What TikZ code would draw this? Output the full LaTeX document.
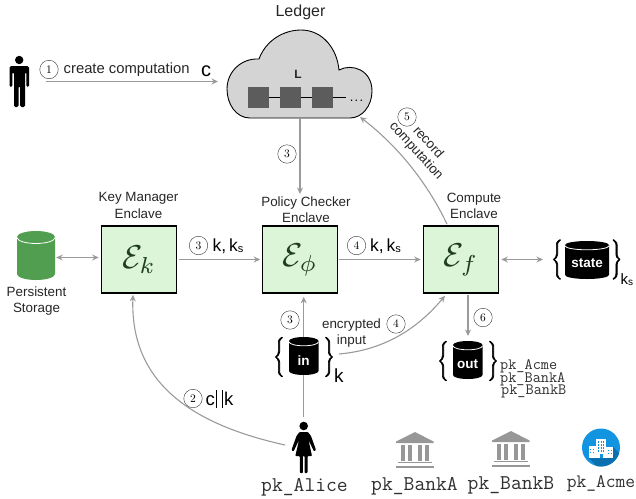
\documentclass[tikz,border=0pt]{standalone}
\usepackage[no-math]{fontspec}
\setmainfont{Liberation Sans}
\usetikzlibrary{arrows.meta,calc}
\definecolor{arrgray}{HTML}{9A9A9A}
\definecolor{boxgreen}{HTML}{DCF5D8}
\definecolor{egreen}{HTML}{1F3D1F}
\definecolor{cylgreen}{HTML}{519E51}
\definecolor{cloudgray}{HTML}{D4D4D4}
\definecolor{blockgray}{HTML}{5C5C5C}
\definecolor{bankgray}{HTML}{979797}
\definecolor{acmeblue}{HTML}{1394E0}
\definecolor{acmedark}{HTML}{0C6FAE}
\definecolor{ttgray}{HTML}{303030}
\newcommand{\fs}[1]{\fontsize{#1}{#1}\selectfont}
\newcommand{\cnum}[1]{\scalebox{1.15}{$#1$}}
\newcommand{\fatbrace}[1]{\special{pdf:code 2 Tr 0.55 w}\scalebox{1.32}{$\Bigg#1$}\special{pdf:code 0 Tr}}
\tikzset{
  arr/.style={draw=arrgray,line width=1.1pt,-{Stealth[length=6.5pt,width=6pt]}},
  biarr/.style={draw=arrgray,line width=1.1pt,{Stealth[length=6.5pt,width=6pt]}-{Stealth[length=6.5pt,width=6pt]}},
  plain/.style={draw=arrgray,line width=1.1pt},
  enclave/.style={draw=black,line width=1.6pt,fill=boxgreen,minimum width=75pt,minimum height=67pt,inner sep=0pt,text=egreen},
  small/.style={inner sep=0pt,align=center,font=\fs{13.4},text=black!85},
  num/.style={circle,draw=black!80,line width=0.4pt,minimum size=18.5pt,inner sep=0pt,font=\fs{10}},
  big/.style={inner sep=0pt,font=\fs{17.5},text=black},
  tt/.style={inner sep=0pt,text=ttgray,font=\ttfamily\fs{21}},
  ttsm/.style={inner sep=0pt,text=ttgray,font=\ttfamily\fs{15.8}},
  cyllabel/.style={inner sep=0pt,text=white,font=\bfseries\fs{13.5}},
  bracket/.style={inner sep=0pt,text=black},
}
\newcommand{\blackcyl}[4]{% x left, y top, width, height
  \fill[black] (#1,#2+4) arc[x radius=#3/2,y radius=4,start angle=180,end angle=360]
     -- (#1+#3,#2+#4-4) arc[x radius=#3/2,y radius=4,start angle=0,end angle=180] -- cycle;
  \draw[white,line width=0.8pt] (#1,#2+4.8) arc[x radius=#3/2,y radius=4,start angle=180,end angle=0];
}
\newcommand{\bankicon}[2]{% x left, y offset
  \begin{scope}[shift={(#1,#2)}]
  \fill[bankgray] (0,9.5) -- (19,0) -- (37.5,9.5) -- (37.5,11) -- (0,11) -- cycle;
  \foreach \cx in {5,12,22,29}{\fill[bankgray] (\cx,12.5) rectangle (\cx+4.3,29);}
  \fill[bankgray] (2,30) rectangle (35.5,31.2);
  \fill[bankgray] (0,33.5) rectangle (37.5,35.5);
  \end{scope}
}
\begin{document}
\begin{tikzpicture}[x=1pt,y=-1pt]
\useasboundingbox (0,0) rectangle (636,498);
% ---- cloud
\path[fill=cloudgray,draw=black,line width=0.9pt]
  (250,118) .. controls (236,118) and (227,104) .. (227,89)
  .. controls (227,72) and (241,58) .. (259,59)
  .. controls (266,40) and (284,30) .. (301,30)
  .. controls (322,30) and (337,48) .. (339,70)
  .. controls (352,63) and (372,70) .. (372,91)
  .. controls (372,106) and (362,118) .. (350,118) -- cycle;
\node[inner sep=0pt,font=\bfseries\fs{12},text=black!85] (ltext) at (298,74.5) {L};
\node[inner sep=0pt,minimum width=21pt,minimum height=21pt,fill=blockgray] (b1) at (258.5,97.5) {};
\node[inner sep=0pt,minimum width=21pt,minimum height=21pt,fill=blockgray] (b2) at (290.5,97.5) {};
\node[inner sep=0pt,minimum width=21pt,minimum height=21pt,fill=blockgray] (b3) at (322.5,97.5) {};
\coordinate (chainend) at (345.5,97.5);
\draw[line width=0.8pt] (b1) -- (b2);
\draw[line width=0.8pt] (b2) -- (b3);
\draw[line width=0.8pt] (b3) -- (chainend);
\node[inner sep=0pt,font=\fs{13},anchor=base] (dots) at (356.5,101) {.\hspace{1.2pt}.\hspace{1.2pt}.};
\node[inner sep=0pt,font=\fs{16},text=black!85] (ledger) at (300.5,12.5) {Ledger};
\coordinate (cloudb) at (300,118);
\coordinate (cloudbr) at (360,117);
\coordinate (cloudl) at (218,81.5);
% ---- man
\fill[black] (19.2,60) circle (4.2);
\fill[black,rounded corners=1.5pt] (9.5,66) -- (29,66) -- (29,87) -- (26.3,87) -- (26.3,72) -- (25,72) -- (25,107) -- (20.2,107) -- (20.2,86) -- (18.6,86) -- (18.6,107) -- (14,107) -- (14,72) -- (12.3,72) -- (12.3,87) -- (9.5,87) -- cycle;
\coordinate (man) at (46,81.5);
% ---- enclaves
\node[enclave] (km) at (139,259.5) {\scalebox{3.3}{$\mathcal{E}_k$}};
\node[enclave] (pc) at (300,259.5) {\scalebox{3.3}{$\mathcal{E}_\phi$}};
\node[enclave] (ce) at (461,259.5) {\scalebox{3.3}{$\mathcal{E}_f$}};
\node[small] (kml) at (138.5,205.5) {Key Manager\\[2.7pt]Enclave};
\node[small] (pcl) at (306,209.5) {Policy Checker\\[2.7pt]Enclave};
\node[small] (cel) at (474,205.5) {Compute\\[2.7pt]Enclave};
% ---- persistent storage
\fill[cylgreen] (17,237) arc[x radius=19,y radius=6,start angle=180,end angle=360] -- (55,274) arc[x radius=19,y radius=6,start angle=0,end angle=180] -- cycle;
\draw[white,line width=0.8pt] (17,237.5) arc[x radius=19,y radius=6,start angle=180,end angle=0];
\node[inner sep=0pt,minimum width=38pt,minimum height=49pt] (store) at (36,255.5) {};
\node[small] (storel) at (36.5,301) {Persistent\\[2.7pt]Storage};
% ---- state
\blackcyl{565}{241}{44}{38}
\node[cyllabel] (statel) at (587,263.5) {state};
\node[bracket] (sl) at (557,259.5) {\fatbrace\{};
\node[bracket] (sr) at (616.5,259.5) {\fatbrace\}};
\node[inner sep=0pt,font=\fs{15},anchor=base west] (ks) at (620.5,284) {k\raisebox{-1pt}{\fs{10}s}};
\coordinate (statec) at (543,259.5);
% ---- in
\blackcyl{289}{337}{29.5}{38}
\node[cyllabel] (inl) at (303.7,360.5) {in};
\node[bracket] (il) at (279,357) {\fatbrace\{};
\node[bracket] (ir) at (329,357) {\fatbrace\}};
\node[inner sep=0pt,font=\fs{19},anchor=base west] (kk) at (334,382) {k};
\coordinate (incyl) at (303.7,337);
\coordinate (incylb) at (303.7,375);
% ---- out
\blackcyl{453}{341}{29.5}{38}
\node[cyllabel] (outl) at (467.7,364) {out};
\node[bracket] (ol) at (443,361) {\fatbrace\{};
\node[bracket] (or) at (493,361) {\fatbrace\}};
\coordinate (outcyl) at (468,336);
\node[ttsm,anchor=base west] (oa) at (500,369.5) {pk\_Acme};
\node[ttsm,anchor=base west] (ob) at (500,382) {pk\_BankA};
\node[ttsm,anchor=base west] (oc) at (501,394) {pk\_BankB};
% ---- Alice
\fill[black] (303.7,426) circle (4.3);
\fill[black,rounded corners=0.8pt] (299.5,432) -- (308,432) -- (311,436) -- (316,450) -- (314,451.5) -- (308.5,440) -- (312,456) -- (307.5,456) -- (307.5,473) -- (304.6,473) -- (304.6,456) -- (302.8,456) -- (302.8,473) -- (299.8,473) -- (299.8,456) -- (295.3,456) -- (299,440) -- (293.5,451.5) -- (291.5,450) -- (296.5,436) -- cycle;
\coordinate (alicetop) at (303.7,417);
\coordinate (aliceleft) at (285,445);
\node[tt,anchor=base] (alice) at (304.5,491) {pk\_Alice};
% ---- banks
\bankicon{396}{432}
\bankicon{492}{431}
\node[tt,anchor=base] (banka) at (414.5,490) {pk\_BankA};
\node[tt,anchor=base] (bankb) at (511,489) {pk\_BankB};
% ---- Acme
\fill[acmeblue] (601,447.5) circle (19);
\begin{scope}
\clip (601,447.5) circle (19);
\fill[acmedark] (588.5,458) -- (613,458) -- (613,447) -- (640,474) -- (620,490) -- (606,475) -- cycle;
\end{scope}
\fill[white] (596,438.5) rectangle (606,458);
\fill[white] (588.5,446) rectangle (596,458);
\fill[white] (606,447) rectangle (613,458);
\foreach \xx in {598,600.5,603}{\foreach \yy in {441,444,447,450}{\fill[acmeblue] (\xx,\yy) rectangle +(1.3,1.5);}}
\foreach \xx in {590,593}{\fill[acmeblue] (\xx,449) rectangle +(1.2,1.4);\fill[acmeblue] (\xx,452) rectangle +(1.2,1.4);}
\foreach \xx in {608,610.5}{\fill[acmeblue] (\xx,450) rectangle +(1.2,1.4);\fill[acmeblue] (\xx,453) rectangle +(1.2,1.4);}
\fill[acmeblue] (599.5,454) rectangle (602.5,458);
\node[tt,anchor=base,font=\ttfamily\fs{19}] (acme) at (601,487) {pk\_Acme};
% ---- connectors
\draw[arr] (man) -- (cloudl);
\node[num] (n1) at (49,69.5) {\cnum{1}};
\node[inner sep=0pt,font=\fs{14.8},text=black!85,anchor=base west] (cc) at (63.5,73.5) {create computation};
\node[inner sep=0pt,font=\fs{20},anchor=base] (cletter) at (206,76) {c};
\draw[arr] (cloudb) -- (300,194);
\node[num] (n3a) at (287,154) {\cnum{3}};
\draw[arr] ([xshift=2pt]km.east) -- ([xshift=-1.5pt]pc.west);
\node[num] (n3b) at (198.5,245.5) {\cnum{3}};
\node[big,anchor=base west] (t3b) at (212.5,251) {k,\,k\raisebox{-1.5pt}{\fs{11}s}};
\draw[arr] ([xshift=1pt]pc.east) -- ([xshift=-2pt]ce.west);
\node[num] (n4a) at (356.5,245.5) {\cnum{4}};
\node[big,anchor=base west] (t4a) at (370,251) {k,\,k\raisebox{-1.5pt}{\fs{11}s}};
\draw[biarr] ([xshift=1pt,yshift=-2pt]store.east) -- ([xshift=-2pt,yshift=2pt]km.west);
\draw[biarr] ([xshift=2pt]ce.east) -- (statec);
\draw[arr] (incyl) -- ([xshift=3.7pt,yshift=-3pt]pc.south);
\draw[plain] (alicetop) -- (incylb);
\node[num] (n3c) at (290,320) {\cnum{3}};
\node[small] (enc) at (351.5,333) {encrypted\\[2.3pt]input};
\node[num] (n4b) at (396,324) {\cnum{4}};
\coordinate (encstart) at (339,354);
\draw[arr] (encstart) .. controls (385,350) and (418,328) .. ([xshift=-16pt,yshift=-2pt]ce.south);
\draw[arr] ([xshift=7pt,yshift=-1pt]ce.south) -- (outcyl);
\node[num] (n6) at (483,317.5) {\cnum{6}};
\draw[arr] ([xshift=-14pt,yshift=1pt]ce.north) .. controls (431,190) and (403,150) .. (cloudbr);
\node[num] (n5) at (407,117) {\cnum{5}};
\node[small,rotate=-48] (rec) at (429,142) {record};
\node[small,rotate=-48] (comp) at (416,151) {computation};
\draw[arr] (aliceleft) .. controls (195,425) and (130,385) .. ([xshift=-6pt,yshift=-1pt]km.south);
\node[num] (n2) at (193,398.5) {\cnum{2}};
\node[big,anchor=base west,font=\fs{18.5}] (t2) at (205.5,405) {c\hspace{1.5pt}\rule[-3pt]{0.6pt}{18pt}\hspace{5pt}\rule[-3pt]{0.6pt}{18pt}\hspace{1.5pt}k};
\end{tikzpicture}
\end{document}
